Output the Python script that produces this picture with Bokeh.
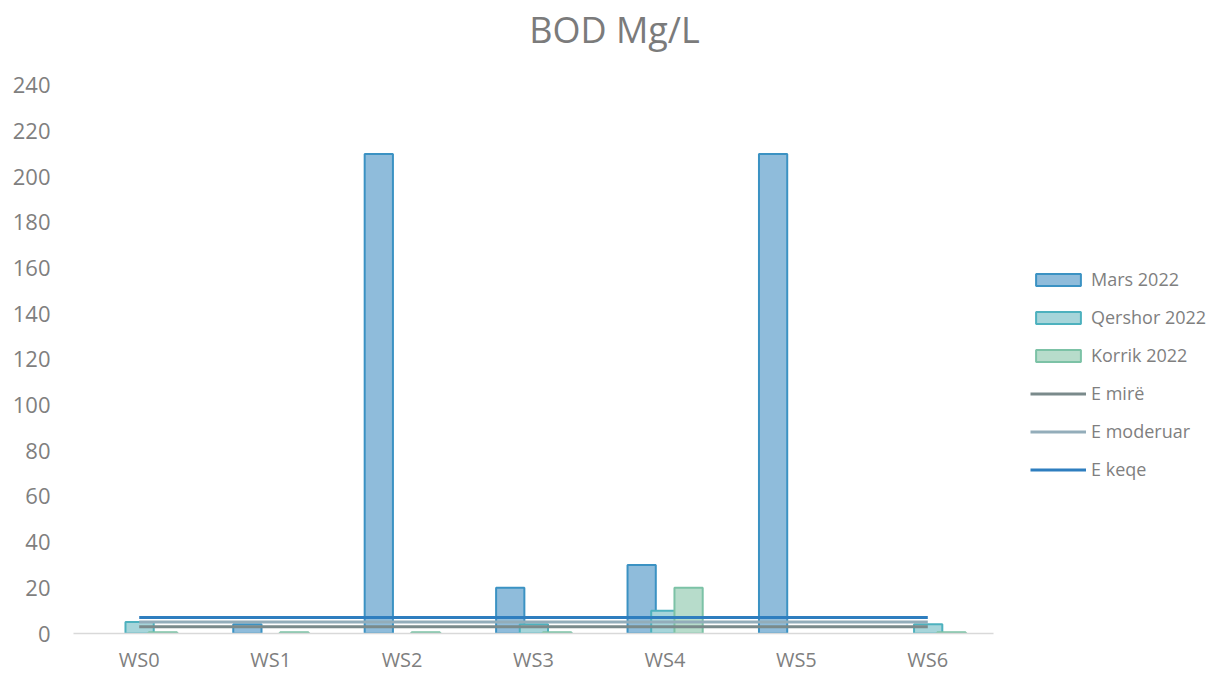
import numpy as np
from bokeh.plotting import figure
from bokeh.models import (ColumnDataSource, Range1d, Legend, LegendItem, Label, FixedTicker)
from bokeh.transform import dodge
from bokeh.embed import file_html
from bokeh.resources import INLINE

# ---------------- data ----------------
categories = ["WS0", "WS1", "WS2", "WS3", "WS4", "WS5", "WS6"]
mars_2022 = [np.nan, 4, 210, 20, 30, 210, np.nan]
qershor_2022 = [5, np.nan, np.nan, 4, 10, np.nan, 4]
korrik_2022 = [0.5, 0.5, 0.5, 0.5, 20, np.nan, 0.5]
e_mire = [3, 3, 3, 3, 3, 3, 3]
e_moderuar = [5, 5, 5, 5, 5, 5, 5]
e_keqe = [7, 7, 7, 7, 7, 7, 7]
y_ticks = [0, 20, 40, 60, 80, 100, 120, 140, 160, 180, 200, 220, 240]
title_text = "BOD Mg/L"

FONT = "Open Sans"
GREY = "#7f7f7f"

xpos = list(range(len(categories)))
src = ColumnDataSource(dict(x=xpos, cat=categories, mars=mars_2022, qershor=qershor_2022,
                            korrik=korrik_2022, mire=e_mire, moderuar=e_moderuar,
                            keqe=e_keqe))

# frame spans full width/top so that title and legend (drawn inside) are not clipped;
# the data area (0..240, WS0..WS6) sits where the reference puts it.
FRAME_W = 1212 - 73
FRAME_H = 634
CAT_PX = 920 / 7.0
PX_PER_UNIT = 549 / 240.0
x_end = -0.5 + FRAME_W / CAT_PX
y_end = FRAME_H / PX_PER_UNIT

p = figure(width=1212, height=675, x_range=Range1d(-0.5, x_end), y_range=Range1d(0, y_end),
           output_backend="svg", toolbar_location=None,
           min_border_left=73, min_border_right=0, min_border_top=0, min_border_bottom=41)
p.outline_line_color = None
p.xgrid.grid_line_color = None
p.ygrid.grid_line_color = None
p.background_fill_color = "white"
p.border_fill_color = "white"

bw = 0.215
r_mars = p.vbar(x=dodge("x", -0.177), top="mars", width=bw, source=src,
                fill_color="#8fbcdb", line_color="#3b92c3", line_width=2)
r_qer = p.vbar(x=dodge("x", 0.003), top="qershor", width=bw, source=src,
               fill_color="#a6d5da", line_color="#4db1be", line_width=2)
r_kor = p.vbar(x=dodge("x", 0.18), top="korrik", width=bw, source=src,
               fill_color="#b7dccb", line_color="#7cc2a6", line_width=2)

l_mire = p.line(x="x", y="mire", source=src, line_color="#7a8a8b", line_width=3)
l_mod = p.line(x="x", y="moderuar", source=src, line_color="#93adba", line_width=3)
l_keqe = p.line(x="x", y="keqe", source=src, line_color="#2e7ebf", line_width=3)

# axes
p.yaxis.ticker = FixedTicker(ticks=y_ticks)
p.yaxis.axis_line_color = None
p.yaxis.major_tick_line_color = None
p.yaxis.minor_tick_line_color = None
p.yaxis.major_tick_out = 0
p.yaxis.major_label_standoff = 23
p.yaxis.major_label_text_font = FONT
p.yaxis.major_label_text_font_size = "22px"
p.yaxis.major_label_text_color = GREY

p.xaxis.ticker = FixedTicker(ticks=xpos)
p.xaxis.major_label_overrides = {i: c for i, c in zip(xpos, categories)}
p.xaxis.bounds = (-0.5, len(categories) - 0.5)
p.xaxis.axis_line_color = "#d9d9d9"
p.xaxis.axis_line_width = 1.5
p.xaxis.major_tick_line_color = None
p.xaxis.minor_tick_line_color = None
p.xaxis.major_tick_out = 0
p.xaxis.major_label_standoff = 12
p.xaxis.major_label_text_font = FONT
p.xaxis.major_label_text_font_size = "20px"
p.xaxis.major_label_text_color = GREY

# title
p.add_layout(Label(x=541, y=FRAME_H - 30, x_units="screen", y_units="screen", text=title_text,
                   text_align="center", text_baseline="middle", text_font=FONT,
                   text_font_size="36px", text_color="#7b7b7b"))

legend = Legend(items=[
    LegendItem(label="Mars 2022", renderers=[r_mars]),
    LegendItem(label="Qershor 2022", renderers=[r_qer]),
    LegendItem(label="Korrik 2022", renderers=[r_kor]),
    LegendItem(label="E mirë", renderers=[l_mire]),
    LegendItem(label="E moderuar", renderers=[l_mod]),
    LegendItem(label="E keqe", renderers=[l_keqe]),
], location=(957, 152))
legend.background_fill_alpha = 0
legend.border_line_color = None
legend.padding = 0
legend.margin = 0
legend.spacing = 14
legend.glyph_width = 56
legend.glyph_height = 15
legend.label_height = 20
legend.label_standoff = 5
legend.label_text_font = FONT
legend.label_text_font_size = "18px"
legend.label_text_color = GREY
p.add_layout(legend, "center")

open("out.html", "w").write(file_html(p, INLINE))
